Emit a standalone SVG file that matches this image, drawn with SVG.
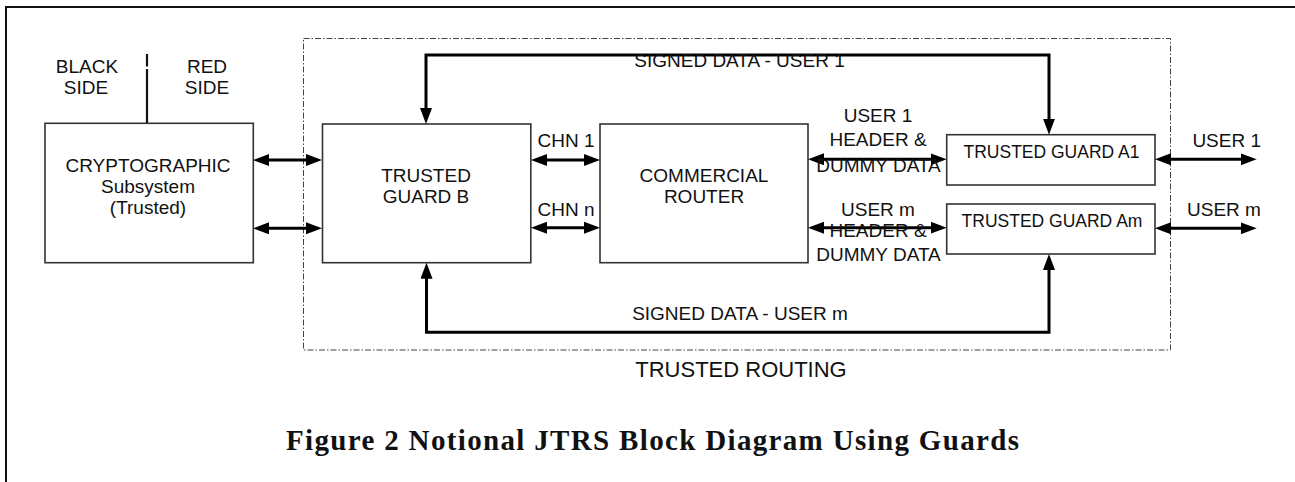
<svg xmlns="http://www.w3.org/2000/svg" width="1295" height="482" viewBox="0 0 1295 482">
<style>
text{font-family:"Liberation Sans",Arial,sans-serif;fill:#111;}
.lbl{font-size:19px;text-anchor:middle;}
.sm{font-size:17.5px;text-anchor:middle;}
.box{fill:#fff;stroke:#333;stroke-width:1.6;}
.con{fill:none;stroke:#000;stroke-width:3;}
.cap{font-family:"Liberation Serif","Times New Roman",serif;font-weight:bold;font-size:29px;}
</style>
<defs>
<marker id="ah" markerUnits="userSpaceOnUse" markerWidth="16" markerHeight="12" refX="2" refY="6" orient="auto-start-reverse">
<path d="M0,0 L16,6 L0,12 z" fill="#000"/>
</marker>
</defs>
<rect width="1295" height="482" fill="#fff"/>
<g id="frame" fill="none" stroke="#111" stroke-width="2">
<line x1="6" y1="7" x2="1295" y2="7"/>
<line x1="6" y1="6" x2="6" y2="482"/>
</g>
<g id="trusted-routing">
<rect x="303.5" y="38.5" width="867" height="311.5" fill="none" stroke="#444" stroke-width="1" stroke-dasharray="6 2 1.5 2"/>
<text x="741" y="377" style="font-size:22px;text-anchor:middle">TRUSTED ROUTING</text>
</g>
<g id="side-divider">
<line x1="147" y1="54" x2="147" y2="66.5" stroke="#111" stroke-width="2.2"/>
<line x1="147" y1="69" x2="147" y2="123" stroke="#111" stroke-width="2.2"/>
<text class="lbl" x="87" y="73">BLACK</text>
<text class="lbl" x="86" y="94">SIDE</text>
<text class="lbl" x="207" y="73">RED</text>
<text class="lbl" x="207" y="94">SIDE</text>
</g>
<g id="crypto">
<rect class="box" x="45" y="123.3" width="208.3" height="139.4"/>
<text class="lbl" x="148" y="172">CRYPTOGRAPHIC</text>
<text class="lbl" x="148" y="193">Subsystem</text>
<text class="lbl" x="148" y="214">(Trusted)</text>
</g>
<g id="guard-b">
<rect class="box" x="322.5" y="124" width="208.3" height="138.7"/>
<text class="lbl" x="426" y="182">TRUSTED</text>
<text class="lbl" x="426" y="203">GUARD B</text>
</g>
<g id="router">
<rect class="box" x="600" y="124" width="208" height="138.7"/>
<text class="lbl" x="704" y="182">COMMERCIAL</text>
<text class="lbl" x="704" y="203">ROUTER</text>
</g>
<g id="guard-a1">
<rect class="box" x="946.7" y="134.7" width="208.3" height="50.3"/>
<text class="sm" x="1051.5" y="158.3">TRUSTED GUARD A1</text>
</g>
<g id="guard-am">
<rect class="box" x="946.7" y="204" width="208.3" height="50"/>
<text class="sm" x="1052" y="226.7">TRUSTED GUARD Am</text>
</g>
<g id="connectors">
<line class="con" x1="267" y1="160" x2="308" y2="160" marker-start="url(#ah)" marker-end="url(#ah)"/>
<line class="con" x1="267" y1="228.3" x2="308" y2="228.3" marker-start="url(#ah)" marker-end="url(#ah)"/>
<line class="con" x1="545" y1="160" x2="586" y2="160" marker-start="url(#ah)" marker-end="url(#ah)"/>
<line class="con" x1="545" y1="227.7" x2="586" y2="227.7" marker-start="url(#ah)" marker-end="url(#ah)"/>
<line class="con" x1="822" y1="159.3" x2="932.7" y2="159.3" marker-start="url(#ah)" marker-end="url(#ah)"/>
<line class="con" x1="822" y1="227.7" x2="932.7" y2="227.7" marker-start="url(#ah)" marker-end="url(#ah)"/>
<line class="con" x1="1169" y1="159.3" x2="1242.7" y2="159.3" marker-start="url(#ah)" marker-end="url(#ah)"/>
<line class="con" x1="1169" y1="228.3" x2="1242.7" y2="228.3" marker-start="url(#ah)" marker-end="url(#ah)"/>
<path class="con" d="M426,110 V55 H1049 V120.7" marker-start="url(#ah)" marker-end="url(#ah)"/>
<path class="con" d="M426.5,276.7 V332.3 H1049 V268" marker-start="url(#ah)" marker-end="url(#ah)"/>
</g>
<g id="labels">
<text class="lbl" x="739.5" y="66.7">SIGNED DATA - USER 1</text>
<text class="lbl" x="740" y="320">SIGNED DATA - USER m</text>
<text class="lbl" x="566" y="147.3">CHN 1</text>
<text class="lbl" x="566" y="215.7">CHN n</text>
<text class="lbl" x="878" y="122.3">USER 1</text>
<text class="lbl" x="878" y="146">HEADER &amp;</text>
<text class="lbl" x="878.5" y="171.7">DUMMY DATA</text>
<text class="lbl" x="878" y="215.7">USER m</text>
<text class="lbl" x="878" y="237.3">HEADER &amp;</text>
<text class="lbl" x="878.5" y="260.7">DUMMY DATA</text>
<text class="lbl" x="1226.7" y="146.7">USER 1</text>
<text class="lbl" x="1224" y="216">USER m</text>
</g>
<text class="cap" x="286" y="450" textLength="733" lengthAdjust="spacing">Figure 2 Notional JTRS Block Diagram Using Guards</text>
</svg>
